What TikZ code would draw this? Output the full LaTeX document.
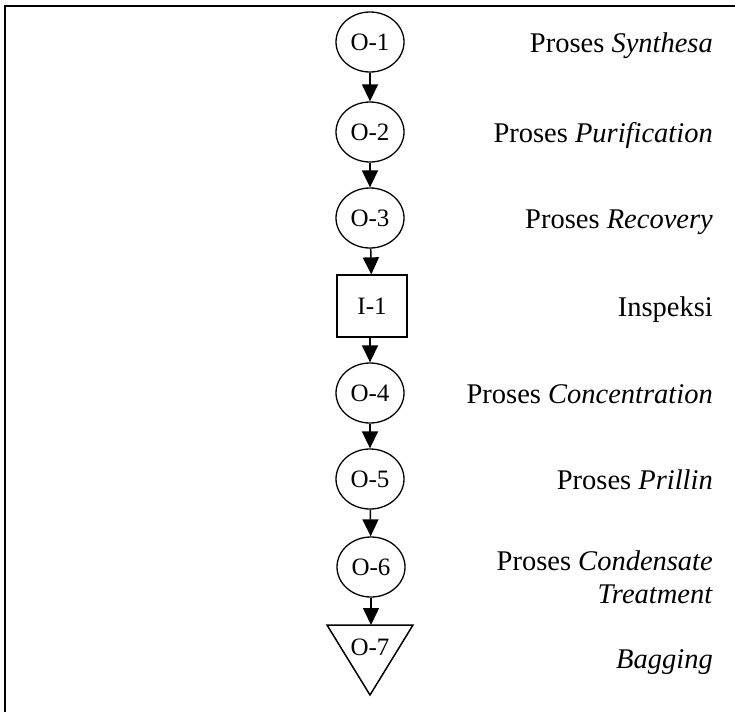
\documentclass[tikz,border=0pt]{standalone}
\usepackage{fontspec}
\setmainfont{Liberation Serif}
\usetikzlibrary{arrows.meta,shapes.geometric}
\tikzset{
  opnode/.style={ellipse, draw, line width=1.3pt, minimum width=68pt, minimum height=60pt,
    inner sep=0pt, font=\fontsize{25}{30}\selectfont},
  inspnode/.style={rectangle, draw, line width=1.3pt, minimum width=70pt, minimum height=62pt,
    inner sep=0pt, font=\fontsize{25}{30}\selectfont},
  flow/.style={-{Triangle[length=17pt,width=16pt]}, line width=1.5pt},
  lbl/.style={anchor=base east, inner sep=0pt, font=\fontsize{28.5}{32}\selectfont}
}
\begin{document}
\begin{tikzpicture}[x=1pt,y=-1pt]
  \useasboundingbox (0,0) rectangle (735,712);
  % frame (top and left edges)
  \draw[line width=2pt] (5,712) -- (5,6) -- (735,6);

  % process chart symbols
  \node[opnode] (o1) at (370,42) {O-1};
  \node[opnode] (o2) at (370,132) {O-2};
  \node[opnode] (o3) at (370,218) {O-3};
  \node[inspnode] (i1) at (372,306) {I-1};
  \node[opnode] (o4) at (370,393) {O-4};
  \node[opnode] (o5) at (370,479) {O-5};
  \node[opnode] (o6) at (371,567) {O-6};

  % storage triangle
  \coordinate (o7top) at (370,625);
  \draw[line width=1.5pt, line join=miter] (327,625) -- (413,625) -- (370,695) -- cycle;
  \node[font=\fontsize{25}{30}\selectfont, inner sep=0pt] (o7) at (370,647) {O-7};

  % connectors
  \draw[flow] (o1) -- (o2);
  \draw[flow] (o2) -- (o3);
  \draw[flow] (o3) -- (i1);
  \draw[flow] (i1.south -| o4) -- (o4);
  \draw[flow] (o4) -- (o5);
  \draw[flow] (o5) -- (o6);
  \draw[flow] (o6.south) -- (o6.south |- o7top);

  % labels
  \node[lbl] (l1) at (713,52) {Proses \textit{Synthesa}};
  \node[lbl] (l2) at (713,142) {Proses \textit{Purification}};
  \node[lbl] (l3) at (713,228) {Proses \textit{Recovery}};
  \node[lbl] (l4) at (713,316) {Inspeksi};
  \node[lbl] (l5) at (713,403) {Proses \textit{Concentration}};
  \node[lbl] (l6) at (713,489) {Proses \textit{Prillin}};
  \node[lbl] (l7a) at (713,570) {Proses \textit{Condensate}};
  \node[lbl] (l7b) at (713,603) {\textit{Treatment}};
  \node[lbl] (l8) at (713,668) {\textit{Bagging}};
\end{tikzpicture}
\end{document}
